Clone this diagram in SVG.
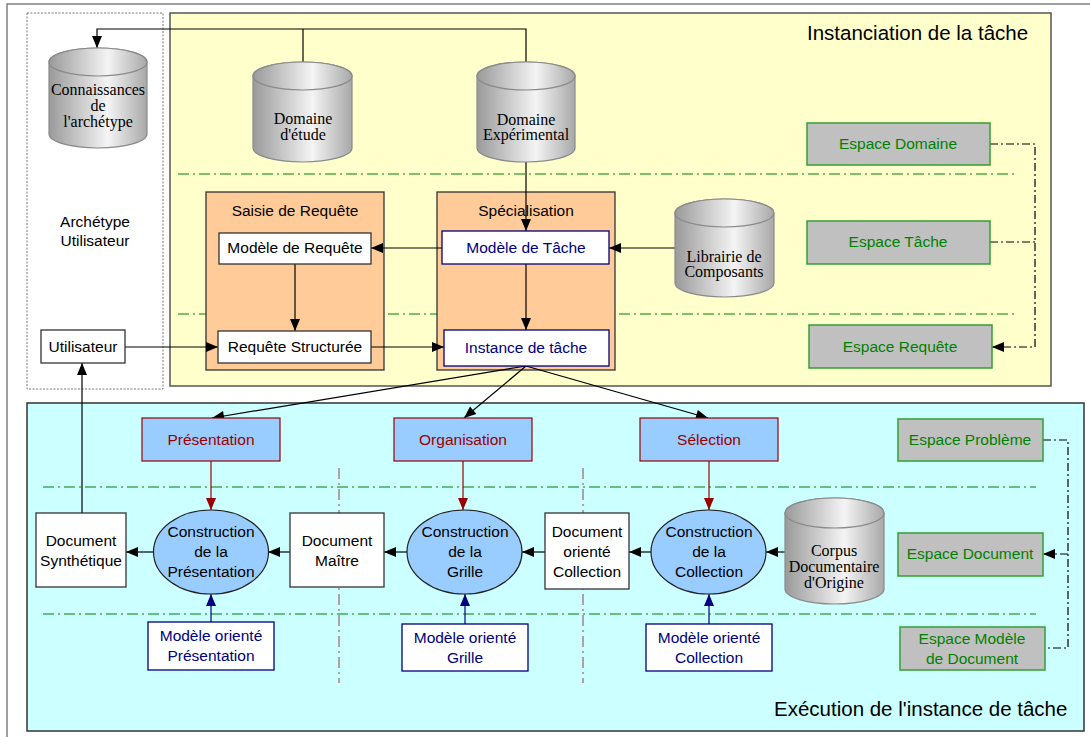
<svg xmlns="http://www.w3.org/2000/svg" width="1090" height="737" viewBox="0 0 1090 737">
<defs>
  <linearGradient id="cyl" x1="0" y1="0" x2="1" y2="0">
    <stop offset="0" stop-color="#9a9a9a"/>
    <stop offset="0.6" stop-color="#f4f4f4"/>
    <stop offset="1" stop-color="#a8a8a8"/>
  </linearGradient>
  <marker id="ah" viewBox="0 0 12 10" refX="12" refY="5" markerWidth="13" markerHeight="10" orient="auto" markerUnits="userSpaceOnUse">
    <path d="M0,0 L12,5 L0,10 z" fill="#000"/>
  </marker>
  <marker id="ahr" viewBox="0 0 12 10" refX="12" refY="5" markerWidth="13" markerHeight="10" orient="auto" markerUnits="userSpaceOnUse">
    <path d="M0,0 L12,5 L0,10 z" fill="#990000"/>
  </marker>
  <marker id="ahb" viewBox="0 0 12 10" refX="12" refY="5" markerWidth="13" markerHeight="10" orient="auto" markerUnits="userSpaceOnUse">
    <path d="M0,0 L12,5 L0,10 z" fill="#000080"/>
  </marker>
</defs>
<style>
  .sans { font-family: "Liberation Sans", Arial, sans-serif; font-size: 15.5px; text-anchor: middle; fill: #000; }
  .serif { font-family: "Liberation Serif", "Times New Roman", serif; font-size: 16px; text-anchor: middle; fill: #000; }
  .title { font-family: "Liberation Sans", Arial, sans-serif; font-size: 20.5px; fill: #000; }
  .cyl { fill: url(#cyl); stroke: #8a8a8a; stroke-width: 1.2; }
  .box { fill: #fff; stroke: #333; stroke-width: 1.3; }
  .nbox { fill: #fff; stroke: #000080; stroke-width: 1.3; }
  .ntxt { fill: #000080; }
  .orange { fill: #ffcc99; stroke: #333; stroke-width: 1.3; }
  .space { fill: #c0c0c0; stroke: #33a033; stroke-width: 1.5; }
  .stxt { fill: #008000; font-size: 15.5px; }
  .task { fill: #99ccff; stroke: #990000; stroke-width: 1.2; }
  .rtxt { fill: #990000; }
  .ell { fill: #99ccff; stroke: #222; stroke-width: 1.2; }
  .etxt { font-size: 15.5px; }
  .sep { stroke: #008000; stroke-width: 1.2; stroke-dasharray: 11 4 2 4; fill: none; }
  .vsep { stroke: #996666; stroke-width: 1.2; stroke-dasharray: 11 4 2 4; fill: none; }
  .link { stroke: #000; stroke-width: 1.2; fill: none; }
  .dlink { stroke: #000; stroke-width: 1.2; fill: none; stroke-dasharray: 8 3 2 3; }
  .rlink { stroke: #990000; stroke-width: 1.2; fill: none; }
  .blink { stroke: #000080; stroke-width: 1.2; fill: none; }
</style>

<!-- frames -->
<rect x="7" y="4" width="1090" height="745" fill="#fff" stroke="#808080" stroke-width="1.5"/>
<rect x="27" y="13" width="136" height="376" fill="#fff" stroke="#777" stroke-width="1" stroke-dasharray="2 1.5"/>
<rect x="170" y="13" width="881" height="373" fill="#ffffcc" stroke="#555" stroke-width="1.5"/>
<rect x="27" y="403" width="1057" height="328" fill="#ccffff" stroke="#333" stroke-width="1.5"/>
<text class="title" x="807" y="40">Instanciation de la tâche</text>
<text class="title" x="774" y="716">Exécution de l'instance de tâche</text>
<text class="sans" x="95" y="227">Archétype</text>
<text class="sans" x="95" y="246">Utilisateur</text>

<!-- layer separators -->
<g id="separators">
  <line class="sep" x1="178" y1="174" x2="1018" y2="174"/>
  <line class="sep" x1="178" y1="314" x2="1018" y2="314"/>
  <line class="sep" x1="43" y1="487" x2="1036" y2="487"/>
  <line class="sep" x1="43" y1="614" x2="1036" y2="614"/>
  <line class="vsep" x1="339" y1="468" x2="339" y2="683"/>
  <line class="vsep" x1="583" y1="468" x2="583" y2="683"/>
</g>

<!-- processing blocks -->
<g id="saisie">
  <rect class="orange" x="206" y="192" width="178" height="178"/>
  <text class="sans" x="295" y="216">Saisie de Requête</text>
</g>
<g id="specialisation">
  <rect class="orange" x="437" y="192" width="178" height="178"/>
  <text class="sans" x="526" y="216">Spécialisation</text>
</g>

<!-- connectors -->
<g id="connectors">
  <path class="link" d="M526,62 V29 H97 V48" marker-end="url(#ah)"/>
  <path class="link" d="M303,62 V29"/>
  <path class="link" d="M526,162 V231" marker-end="url(#ah)"/>
  <path class="link" d="M442,248 H371" marker-end="url(#ah)"/>
  <path class="link" d="M675,248 H609" marker-end="url(#ah)"/>
  <path class="link" d="M295,264 V331" marker-end="url(#ah)"/>
  <path class="link" d="M526,264 V330" marker-end="url(#ah)"/>
  <path class="link" d="M371,347 H444" marker-end="url(#ah)"/>
  <path class="link" d="M125,347 H218" marker-end="url(#ah)"/>
  <path class="link" d="M526,366 L212,418" marker-end="url(#ah)"/>
  <path class="link" d="M526,366 L464,418" marker-end="url(#ah)"/>
  <path class="link" d="M526,366 L708,418" marker-end="url(#ah)"/>
  <path class="dlink" d="M990,144 H1035 V347 H992" marker-end="url(#ah)"/>
  <path class="dlink" d="M990,242 H1035"/>
  <path class="dlink" d="M1043,440 H1068 V648 H1045"/>
  <path class="dlink" d="M1068,554 H1043" marker-end="url(#ah)"/>
  <path class="rlink" d="M211,461 V510" marker-end="url(#ahr)"/>
  <path class="rlink" d="M463,461 V510" marker-end="url(#ahr)"/>
  <path class="rlink" d="M709,461 V510" marker-end="url(#ahr)"/>
  <path class="blink" d="M211,622 V594" marker-end="url(#ahb)"/>
  <path class="blink" d="M465,624 V594" marker-end="url(#ahb)"/>
  <path class="blink" d="M709,624 V594" marker-end="url(#ahb)"/>
  <path class="link" d="M153,552 H126" marker-end="url(#ah)"/>
  <path class="link" d="M290,552 H268" marker-end="url(#ah)"/>
  <path class="link" d="M407,552 H384" marker-end="url(#ah)"/>
  <path class="link" d="M545,552 H522" marker-end="url(#ah)"/>
  <path class="link" d="M651,552 H629" marker-end="url(#ah)"/>
  <path class="link" d="M785,552 H766" marker-end="url(#ah)"/>
  <path class="link" d="M82,513 V363" marker-end="url(#ah)"/>
</g>

<!-- data stores -->
<g id="connaissances">
  <path class="cyl" d="M49,62 A49,14 0 0 1 147,62 V134 A49,14 0 0 1 49,134 Z"/>
  <ellipse class="cyl" cx="98" cy="62" rx="49" ry="14"/>
  <text class="serif" x="98" y="95">Connaissances</text>
  <text class="serif" x="98" y="111">de</text>
  <text class="serif" x="98" y="127">l'archétype</text>
</g>
<g id="domaine-etude">
  <path class="cyl" d="M253,76 A49.5,14 0 0 1 352,76 V148 A49.5,14 0 0 1 253,148 Z"/>
  <ellipse class="cyl" cx="302.5" cy="76" rx="49.5" ry="14"/>
  <text class="serif" x="303" y="124">Domaine</text>
  <text class="serif" x="303" y="140">d'étude</text>
</g>
<g id="domaine-experimental">
  <path class="cyl" d="M477,76 A49,14 0 0 1 575,76 V148 A49,14 0 0 1 477,148 Z"/>
  <ellipse class="cyl" cx="526" cy="76" rx="49" ry="14"/>
  <text class="serif" x="526" y="125">Domaine</text>
  <text class="serif" x="526" y="140">Expérimental</text>
</g>
<g id="librairie">
  <path class="cyl" d="M675,213 A49.5,14 0 0 1 774,213 V283 A49.5,14 0 0 1 675,283 Z"/>
  <ellipse class="cyl" cx="724.5" cy="213" rx="49.5" ry="14"/>
  <text class="serif" x="724" y="262">Librairie de</text>
  <text class="serif" x="724" y="277">Composants</text>
</g>
<g id="corpus">
  <path class="cyl" d="M785,513 A49.5,15 0 0 1 884,513 V589 A49.5,15 0 0 1 785,589 Z"/>
  <ellipse class="cyl" cx="834.5" cy="513" rx="49.5" ry="15"/>
  <text class="serif" x="834" y="556">Corpus</text>
  <text class="serif" x="834" y="572">Documentaire</text>
  <text class="serif" x="834" y="588">d'Origine</text>
</g>

<!-- upper nodes -->
<g id="modele-requete">
  <rect class="box" x="219" y="233" width="152" height="31"/>
  <text class="sans" x="295" y="253">Modèle de Requête</text>
</g>
<g id="requete-structuree">
  <rect class="box" x="218" y="331" width="153" height="32"/>
  <text class="sans" x="295" y="352">Requête Structurée</text>
</g>
<g id="modele-tache">
  <rect class="nbox" x="442" y="231" width="167" height="33"/>
  <text class="sans ntxt" x="526" y="253">Modèle de Tâche</text>
</g>
<g id="instance-tache">
  <rect class="nbox" x="444" y="330" width="165" height="36"/>
  <text class="sans ntxt" x="526" y="353">Instance de tâche</text>
</g>
<g id="utilisateur">
  <rect class="box" x="41" y="330" width="84" height="33"/>
  <text class="sans" x="83" y="352">Utilisateur</text>
</g>

<!-- spaces -->
<g id="espace-domaine">
  <rect class="space" x="807" y="123" width="183" height="42"/>
  <text class="sans stxt" x="898" y="149">Espace Domaine</text>
</g>
<g id="espace-tache">
  <rect class="space" x="807" y="221" width="183" height="43"/>
  <text class="sans stxt" x="898" y="247">Espace Tâche</text>
</g>
<g id="espace-requete">
  <rect class="space" x="809" y="325" width="183" height="43"/>
  <text class="sans stxt" x="900" y="352">Espace Requête</text>
</g>
<g id="espace-probleme">
  <rect class="space" x="898" y="419" width="145" height="42"/>
  <text class="sans stxt" x="970" y="445">Espace Problème</text>
</g>
<g id="espace-document">
  <rect class="space" x="898" y="533" width="145" height="43"/>
  <text class="sans stxt" x="970" y="559">Espace Document</text>
</g>
<g id="espace-modele-document">
  <rect class="space" x="900" y="627" width="145" height="43"/>
  <text class="sans stxt" x="972" y="644">Espace Modèle</text>
  <text class="sans stxt" x="972" y="664">de Document</text>
</g>

<!-- tasks -->
<g id="presentation">
  <rect class="task" x="142" y="418" width="138" height="43"/>
  <text class="sans rtxt" x="211" y="445">Présentation</text>
</g>
<g id="organisation">
  <rect class="task" x="394" y="418" width="138" height="43"/>
  <text class="sans rtxt" x="463" y="445">Organisation</text>
</g>
<g id="selection">
  <rect class="task" x="640" y="418" width="138" height="43"/>
  <text class="sans rtxt" x="709" y="445">Sélection</text>
</g>

<!-- construction steps -->
<g id="construction-presentation">
  <ellipse class="ell" cx="211" cy="552" rx="57.5" ry="42"/>
  <text class="sans etxt" x="211" y="537">Construction</text>
  <text class="sans etxt" x="211" y="557">de la</text>
  <text class="sans etxt" x="211" y="577">Présentation</text>
</g>
<g id="construction-grille">
  <ellipse class="ell" cx="464.5" cy="552" rx="57.5" ry="42"/>
  <text class="sans etxt" x="465" y="537">Construction</text>
  <text class="sans etxt" x="465" y="557">de la</text>
  <text class="sans etxt" x="465" y="577">Grille</text>
</g>
<g id="construction-collection">
  <ellipse class="ell" cx="708.5" cy="552" rx="57.5" ry="42"/>
  <text class="sans etxt" x="709" y="537">Construction</text>
  <text class="sans etxt" x="709" y="557">de la</text>
  <text class="sans etxt" x="709" y="577">Collection</text>
</g>

<!-- documents -->
<g id="document-synthetique">
  <rect class="box" x="36" y="513" width="90" height="74"/>
  <text class="sans" x="81" y="546">Document</text>
  <text class="sans" x="81" y="566">Synthétique</text>
</g>
<g id="document-maitre">
  <rect class="box" x="290" y="513" width="94" height="74"/>
  <text class="sans" x="337" y="546">Document</text>
  <text class="sans" x="337" y="566">Maître</text>
</g>
<g id="document-collection">
  <rect class="box" x="545" y="513" width="84" height="76"/>
  <text class="sans" x="587" y="537">Document</text>
  <text class="sans" x="587" y="557">orienté</text>
  <text class="sans" x="587" y="577">Collection</text>
</g>

<!-- models -->
<g id="modele-presentation">
  <rect class="nbox" x="148" y="622" width="126" height="48"/>
  <text class="sans ntxt" x="211" y="641">Modèle orienté</text>
  <text class="sans ntxt" x="211" y="661">Présentation</text>
</g>
<g id="modele-grille">
  <rect class="nbox" x="402" y="624" width="126" height="47"/>
  <text class="sans ntxt" x="465" y="643">Modèle orienté</text>
  <text class="sans ntxt" x="465" y="663">Grille</text>
</g>
<g id="modele-collection">
  <rect class="nbox" x="646" y="624" width="126" height="47"/>
  <text class="sans ntxt" x="709" y="643">Modèle orienté</text>
  <text class="sans ntxt" x="709" y="663">Collection</text>
</g>
</svg>
